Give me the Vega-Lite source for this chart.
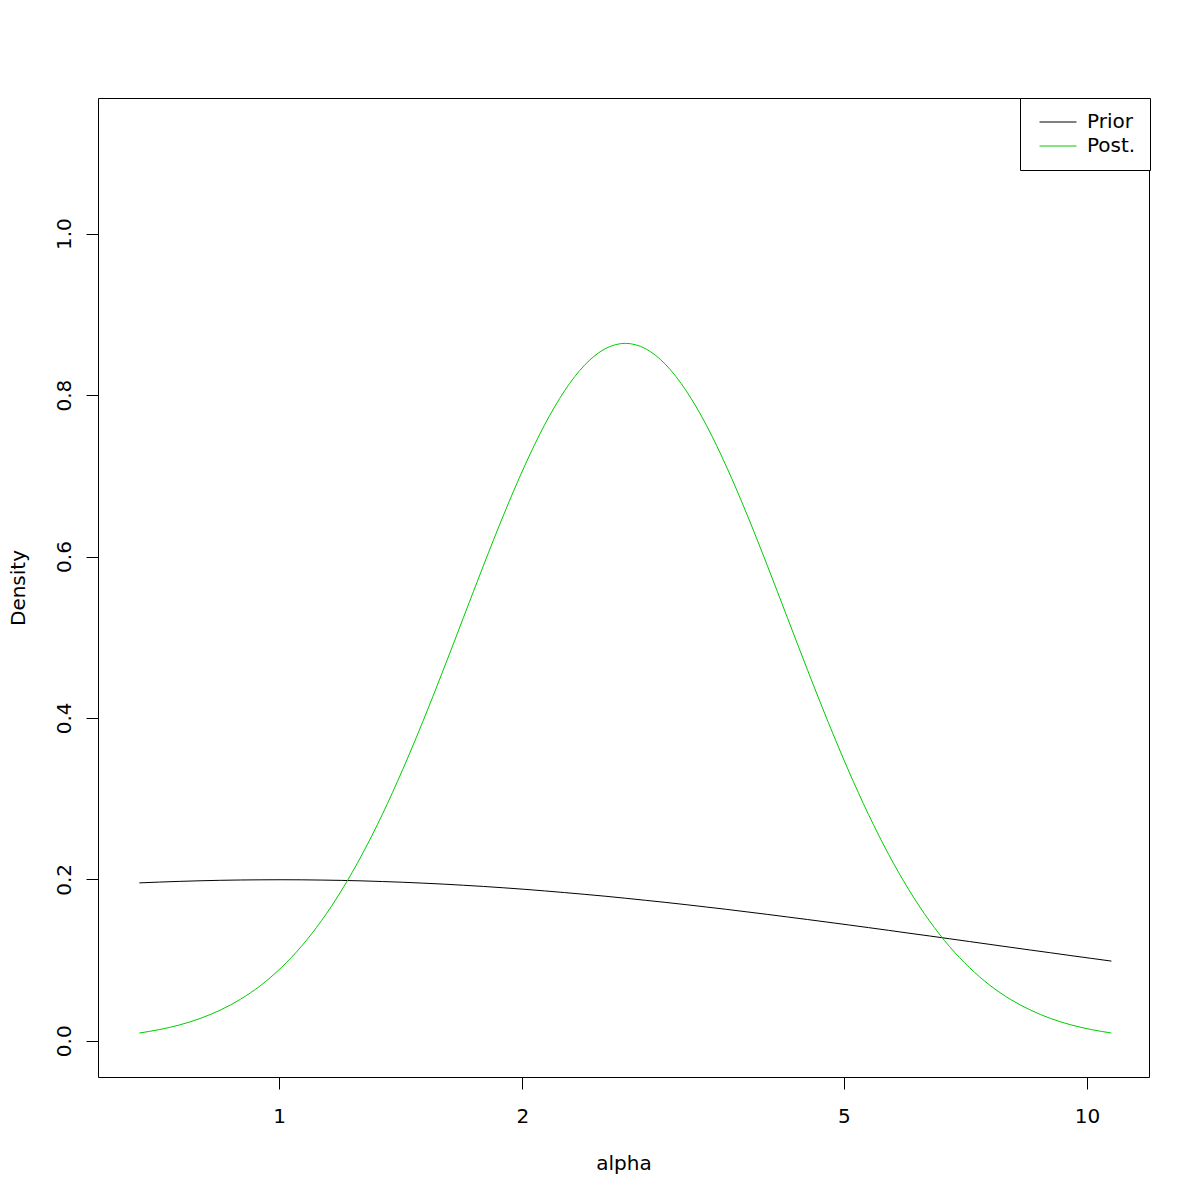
{
  "$schema": "https://vega.github.io/schema/vega-lite/v6.json",
  "width": 1051,
  "height": 979,
  "autosize": {"type": "none"},
  "padding": {"left": 98, "top": 98, "right": 51, "bottom": 123},
  "background": "white",
  "config": {
    "view": {"stroke": "black", "strokeWidth": 1},
    "font": "DejaVu Sans",
    "axis": {
      "grid": false,
      "domain": false,
      "tickColor": "black",
      "tickSize": 12,
      "labelColor": "black",
      "labelFont": "DejaVu Sans",
      "labelFontSize": 20,
      "titleFont": "DejaVu Sans",
      "titleFontSize": 20,
      "titleFontWeight": "normal",
      "titleColor": "black"
    }
  },
  "data": {
    "values": [
      {"alpha": 0.6716, "density": 0.1956, "series": "Prior"},
      {"alpha": 0.7115, "density": 0.1966, "series": "Prior"},
      {"alpha": 0.7537, "density": 0.1975, "series": "Prior"},
      {"alpha": 0.7985, "density": 0.1982, "series": "Prior"},
      {"alpha": 0.8459, "density": 0.1988, "series": "Prior"},
      {"alpha": 0.8962, "density": 0.1992, "series": "Prior"},
      {"alpha": 0.9495, "density": 0.1994, "series": "Prior"},
      {"alpha": 1.0059, "density": 0.1995, "series": "Prior"},
      {"alpha": 1.0657, "density": 0.1994, "series": "Prior"},
      {"alpha": 1.1290, "density": 0.1991, "series": "Prior"},
      {"alpha": 1.1960, "density": 0.1987, "series": "Prior"},
      {"alpha": 1.2671, "density": 0.1981, "series": "Prior"},
      {"alpha": 1.3424, "density": 0.1973, "series": "Prior"},
      {"alpha": 1.4222, "density": 0.1964, "series": "Prior"},
      {"alpha": 1.5067, "density": 0.1953, "series": "Prior"},
      {"alpha": 1.5962, "density": 0.1941, "series": "Prior"},
      {"alpha": 1.6910, "density": 0.1927, "series": "Prior"},
      {"alpha": 1.7914, "density": 0.1912, "series": "Prior"},
      {"alpha": 1.8978, "density": 0.1895, "series": "Prior"},
      {"alpha": 2.0106, "density": 0.1877, "series": "Prior"},
      {"alpha": 2.1301, "density": 0.1857, "series": "Prior"},
      {"alpha": 2.2566, "density": 0.1836, "series": "Prior"},
      {"alpha": 2.3907, "density": 0.1814, "series": "Prior"},
      {"alpha": 2.5327, "density": 0.1791, "series": "Prior"},
      {"alpha": 2.6832, "density": 0.1766, "series": "Prior"},
      {"alpha": 2.8425, "density": 0.1740, "series": "Prior"},
      {"alpha": 3.0114, "density": 0.1714, "series": "Prior"},
      {"alpha": 3.1903, "density": 0.1686, "series": "Prior"},
      {"alpha": 3.3800, "density": 0.1657, "series": "Prior"},
      {"alpha": 3.5807, "density": 0.1628, "series": "Prior"},
      {"alpha": 3.7934, "density": 0.1597, "series": "Prior"},
      {"alpha": 4.0188, "density": 0.1566, "series": "Prior"},
      {"alpha": 4.2575, "density": 0.1534, "series": "Prior"},
      {"alpha": 4.5104, "density": 0.1502, "series": "Prior"},
      {"alpha": 4.7783, "density": 0.1469, "series": "Prior"},
      {"alpha": 5.0621, "density": 0.1436, "series": "Prior"},
      {"alpha": 5.3633, "density": 0.1402, "series": "Prior"},
      {"alpha": 5.6819, "density": 0.1368, "series": "Prior"},
      {"alpha": 6.0194, "density": 0.1333, "series": "Prior"},
      {"alpha": 6.3769, "density": 0.1299, "series": "Prior"},
      {"alpha": 6.7557, "density": 0.1264, "series": "Prior"},
      {"alpha": 7.1570, "density": 0.1229, "series": "Prior"},
      {"alpha": 7.5821, "density": 0.1194, "series": "Prior"},
      {"alpha": 8.0325, "density": 0.1159, "series": "Prior"},
      {"alpha": 8.5100, "density": 0.1124, "series": "Prior"},
      {"alpha": 9.0155, "density": 0.1090, "series": "Prior"},
      {"alpha": 9.5510, "density": 0.1055, "series": "Prior"},
      {"alpha": 10.118, "density": 0.1021, "series": "Prior"},
      {"alpha": 10.719, "density": 0.0987, "series": "Prior"},
      {"alpha": 0.6716, "density": 0.0096, "series": "Post."},
      {"alpha": 0.7115, "density": 0.0139, "series": "Post."},
      {"alpha": 0.7537, "density": 0.0197, "series": "Post."},
      {"alpha": 0.7985, "density": 0.0276, "series": "Post."},
      {"alpha": 0.8459, "density": 0.0380, "series": "Post."},
      {"alpha": 0.8962, "density": 0.0515, "series": "Post."},
      {"alpha": 0.9495, "density": 0.0687, "series": "Post."},
      {"alpha": 1.0059, "density": 0.0904, "series": "Post."},
      {"alpha": 1.0657, "density": 0.1169, "series": "Post."},
      {"alpha": 1.1290, "density": 0.1490, "series": "Post."},
      {"alpha": 1.1960, "density": 0.1869, "series": "Post."},
      {"alpha": 1.2671, "density": 0.2308, "series": "Post."},
      {"alpha": 1.3424, "density": 0.2805, "series": "Post."},
      {"alpha": 1.4222, "density": 0.3358, "series": "Post."},
      {"alpha": 1.5067, "density": 0.3956, "series": "Post."},
      {"alpha": 1.5962, "density": 0.4589, "series": "Post."},
      {"alpha": 1.6910, "density": 0.5241, "series": "Post."},
      {"alpha": 1.7914, "density": 0.5893, "series": "Post."},
      {"alpha": 1.8978, "density": 0.6523, "series": "Post."},
      {"alpha": 2.0106, "density": 0.7108, "series": "Post."},
      {"alpha": 2.1301, "density": 0.7626, "series": "Post."},
      {"alpha": 2.2566, "density": 0.8054, "series": "Post."},
      {"alpha": 2.3907, "density": 0.8375, "series": "Post."},
      {"alpha": 2.5327, "density": 0.8574, "series": "Post."},
      {"alpha": 2.6832, "density": 0.8641, "series": "Post."},
      {"alpha": 2.8425, "density": 0.8574, "series": "Post."},
      {"alpha": 3.0114, "density": 0.8375, "series": "Post."},
      {"alpha": 3.1903, "density": 0.8054, "series": "Post."},
      {"alpha": 3.3800, "density": 0.7626, "series": "Post."},
      {"alpha": 3.5807, "density": 0.7108, "series": "Post."},
      {"alpha": 3.7934, "density": 0.6523, "series": "Post."},
      {"alpha": 4.0188, "density": 0.5893, "series": "Post."},
      {"alpha": 4.2575, "density": 0.5241, "series": "Post."},
      {"alpha": 4.5104, "density": 0.4589, "series": "Post."},
      {"alpha": 4.7783, "density": 0.3956, "series": "Post."},
      {"alpha": 5.0621, "density": 0.3358, "series": "Post."},
      {"alpha": 5.3633, "density": 0.2805, "series": "Post."},
      {"alpha": 5.6819, "density": 0.2308, "series": "Post."},
      {"alpha": 6.0194, "density": 0.1869, "series": "Post."},
      {"alpha": 6.3769, "density": 0.1490, "series": "Post."},
      {"alpha": 6.7557, "density": 0.1169, "series": "Post."},
      {"alpha": 7.1570, "density": 0.0904, "series": "Post."},
      {"alpha": 7.5821, "density": 0.0687, "series": "Post."},
      {"alpha": 8.0325, "density": 0.0515, "series": "Post."},
      {"alpha": 8.5100, "density": 0.0380, "series": "Post."},
      {"alpha": 9.0155, "density": 0.0276, "series": "Post."},
      {"alpha": 9.5510, "density": 0.0197, "series": "Post."},
      {"alpha": 10.118, "density": 0.0139, "series": "Post."},
      {"alpha": 10.719, "density": 0.0096, "series": "Post."}
    ]
  },
  "mark": {"type": "line", "strokeWidth": 1, "interpolate": "monotone"},
  "encoding": {
    "x": {
      "field": "alpha",
      "type": "quantitative",
      "scale": {"type": "log", "domain": [0.597, 11.93], "nice": false, "zero": false},
      "axis": {
        "title": "alpha",
        "values": [1, 2, 5, 10],
        "format": "d",
        "labelBaseline": "alphabetic",
        "labelPadding": 33,
        "labelFlush": false,
        "labelOverlap": false,
        "titleBaseline": "alphabetic",
        "titleY": 92
      }
    },
    "y": {
      "field": "density",
      "type": "quantitative",
      "scale": {"domain": [-0.0449, 1.1681], "nice": false, "zero": false},
      "axis": {
        "title": "Density",
        "values": [0, 0.2, 0.4, 0.6, 0.8, 1.0],
        "format": ".1f",
        "labelAngle": -90,
        "labelAlign": "center",
        "labelBaseline": "alphabetic",
        "labelPadding": 16,
        "labelFlush": false,
        "labelOverlap": false,
        "titleAngle": -90,
        "titleBaseline": "alphabetic",
        "titleX": -74
      }
    },
    "color": {
      "field": "series",
      "type": "nominal",
      "sort": ["Prior", "Post."],
      "scale": {"domain": ["Prior", "Post."], "range": ["#000000", "#00CD00"]},
      "legend": {
        "title": null,
        "orient": "none",
        "legendX": 922,
        "legendY": 0,
        "direction": "vertical",
        "symbolType": "M-2,0H2",
        "symbolSize": 342,
        "symbolStrokeWidth": 1,
        "symbolOffset": 14,
        "labelOffset": 19,
        "labelFontSize": 20,
        "labelFont": "DejaVu Sans",
        "labelColor": "black",
        "padding": 14,
        "rowPadding": 4,
        "strokeColor": "black",
        "fillColor": "white",
        "cornerRadius": 0
      }
    }
  }
}
